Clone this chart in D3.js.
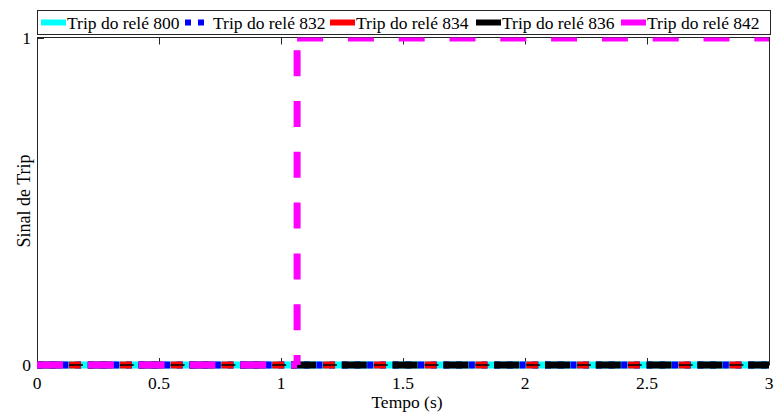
<!DOCTYPE html>
<html>
<head>
<meta charset="utf-8">
<script src="https://d3js.org/d3.v7.min.js"></script>
<style>
  body { margin: 0; background: #fff; }
  svg { display: block; }
</style>
</head>
<body>
<div id="plotDiv"></div>
<script>
// series data
var relays = ["Trip do relé 800", "Trip do relé 832", "Trip do relé 834", "Trip do relé 836", "Trip do relé 842"];
var time800 = [0, 3],          trip800 = [0, 0];
var time832 = [0, 3],          trip832 = [0, 0];
var time834 = [0, 3],          trip834 = [0, 0];
var time836 = [0, 3],          trip836 = [0, 0];
var time842 = [0, 1.066, 1.066, 3], trip842 = [0, 0, 1, 1];
var xTicks = [0, 0.5, 1, 1.5, 2, 2.5, 3];
var xTickLabels = ["0", "0.5", "1", "1.5", "2", "2.5", "3"];
var yTicks = [0, 1];

var colors = ["#00ffff", "#0000ff", "#ff0000", "#000000", "#ff00ff"];
var FONT = "Liberation Serif, Times New Roman, serif";

window.addEventListener("load", makeChart);

function txtStyle(sel, size) {
    return sel.style("font-family", FONT)
        .style("font-size", (size || 17.5) + "px")
        .style("fill", "#000");
}

function makeChart() {
    var W = 774, H = 414;
    var left = 37, right = 769, top = 38, bottom = 365;

    var svg = d3.select("#plotDiv").append("svg")
        .attr("width", W).attr("height", H);

    var x = d3.scaleLinear().domain([0, 3]).range([left, right]);
    var y = d3.scaleLinear().domain([0, 1]).range([bottom, top]);

    svg.append("defs").append("clipPath").attr("id", "clip")
      .append("rect").attr("x", 0).attr("y", 37.5).attr("width", W).attr("height", H);

    // frame
    svg.append("rect")
        .attr("x", left + 0.5).attr("y", 37.5)
        .attr("width", right - left).attr("height", bottom - 37.5)
        .attr("fill", "none").attr("stroke", "#262626").attr("stroke-width", 1);

    // ticks (inward, on all four sides)
    var tk = svg.append("g").attr("stroke", "#262626").attr("stroke-width", 1);
    xTicks.forEach(function(t) {
        var px = Math.round(x(t)) + 0.5;
        tk.append("line").attr("x1", px).attr("x2", px).attr("y1", bottom).attr("y2", bottom - 7);
        tk.append("line").attr("x1", px).attr("x2", px).attr("y1", 37.5).attr("y2", 37.5 + 7);
    });
    yTicks.forEach(function(v) {
        var py = Math.round(y(v)) + 0.5;
        tk.append("line").attr("x1", left).attr("x2", left + 7).attr("y1", py).attr("y2", py);
        tk.append("line").attr("x1", right).attr("x2", right - 7).attr("y1", py).attr("y2", py);
    });

    // tick labels
    txtStyle(svg.append("g").selectAll("text").data(xTicks).enter().append("text")
        .attr("x", function(d) { return x(d); })
        .attr("y", 389)
        .attr("text-anchor", "middle")
        .text(function(d, i) { return xTickLabels[i]; }));
    txtStyle(svg.append("g").selectAll("text").data(yTicks).enter().append("text")
        .attr("x", 31)
        .attr("y", function(d) { return y(d) + 6; })
        .attr("text-anchor", "end")
        .text(function(d) { return d; }));

    txtStyle(svg.append("text")
        .attr("x", 407).attr("y", 408)
        .attr("text-anchor", "middle")
        .text("Tempo (s)"));
    txtStyle(svg.append("text")
        .attr("transform", "translate(30,201) rotate(-90)")
        .attr("text-anchor", "middle")
        .text("Sinal de Trip"), 18);

    // line styles; dashes restart at each segment as in the original
    var styles = [
        {w: 7, dash: null, off: [0]},
        {w: 7, dash: "6 6.7", off: [-25.4]},
        {w: 7, dash: "12 38.8", off: [-32]},
        {w: 7, dash: "25 25.8", off: [0]},
        {w: 7, dash: "26 24.8", off: [0, -34.8, 0]}
    ];
    var times = [time800, time832, time834, time836, time842];
    var trips = [trip800, trip832, trip834, trip836, trip842];

    var lines = svg.append("g").attr("clip-path", "url(#clip)");
    times.forEach(function(ts, k) {
        var pts = ts.map(function(t, i) { return [t, trips[k][i]]; });
        var segs = d3.pairs(pts);
        var g = lines.append("g");
        segs.forEach(function(s, j) {
            if (s[0][0] === s[1][0] && s[0][1] === s[1][1]) return;
            g.append("line")
                .attr("x1", x(s[0][0])).attr("y1", y(s[0][1]))
                .attr("x2", x(s[1][0])).attr("y2", y(s[1][1]))
                .attr("stroke", colors[k])
                .attr("stroke-width", styles[k].w)
                .attr("stroke-dasharray", styles[k].dash)
                .attr("stroke-dashoffset", styles[k].off[j] || 0);
            if (k === 3) {
                // thin centre stroke of the dash-dot line
                g.append("line")
                    .attr("x1", x(s[0][0])).attr("y1", y(s[0][1]))
                    .attr("x2", x(s[1][0])).attr("y2", y(s[1][1]))
                    .attr("stroke", colors[k])
                    .attr("stroke-width", 1.6)
                    .attr("stroke-dasharray", "14 36.8")
                    .attr("stroke-dashoffset", -32);
            }
        });
    });

    // legend
    var leg = svg.append("g");
    leg.append("rect")
        .attr("x", 37.5).attr("y", 10.5).attr("width", 733).attr("height", 24)
        .attr("fill", "#fff").attr("stroke", "#262626").attr("stroke-width", 1);
    var legX = [41, 185, 330, 476, 621];
    relays.forEach(function(name, k) {
        var lx = legX[k], ly = 22.5;
        if (k === 1) {
            [0, 13].forEach(function(dx) {
                leg.append("rect").attr("x", lx + dx).attr("y", ly - 3)
                    .attr("width", 6).attr("height", 6).attr("fill", colors[k]);
            });
        } else {
            leg.append("line")
                .attr("x1", lx).attr("x2", lx + 25).attr("y1", ly).attr("y2", ly)
                .attr("stroke", colors[k]).attr("stroke-width", 6);
        }
        txtStyle(leg.append("text")
            .attr("x", k === 1 ? lx + 28 : lx + 26).attr("y", 28.5)
            .text(name));
    });
}
</script>
</body>
</html>
